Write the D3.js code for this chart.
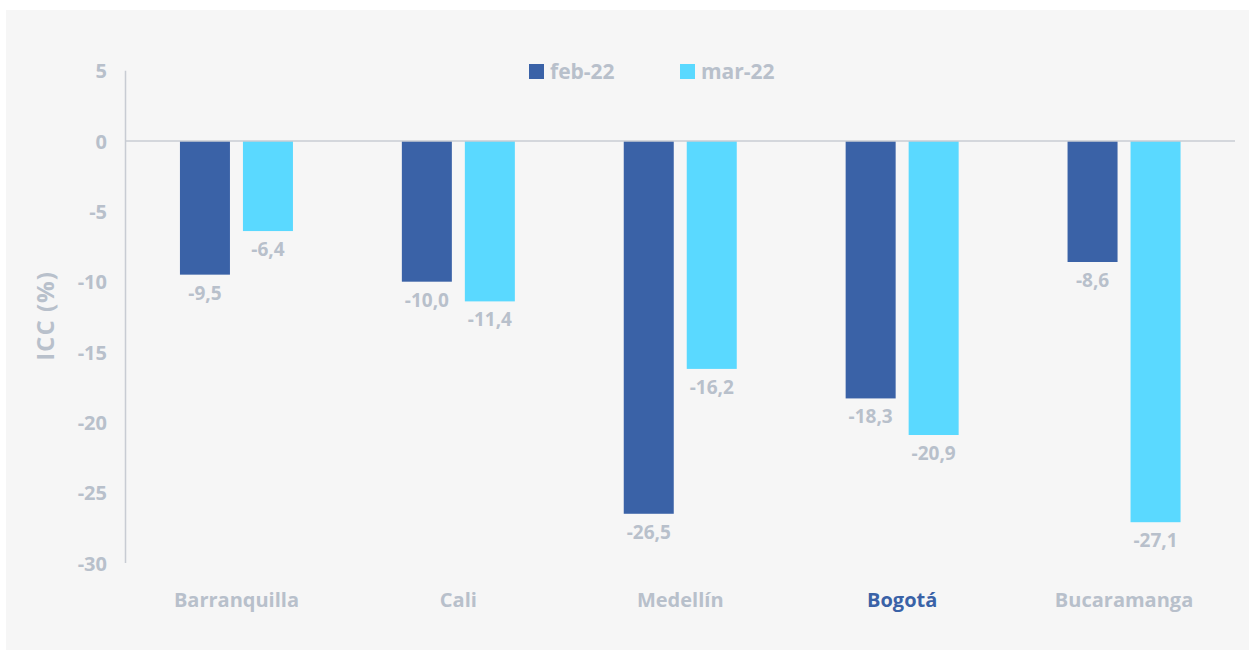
<!DOCTYPE html>
<html><head><meta charset="utf-8">
<script src="https://cdn.jsdelivr.net/npm/d3@7"></script>
<style>
html,body{margin:0;padding:0;background:#fff;}
svg{display:block;}
text{font-family:"Open Sans",Lato,sans-serif;font-weight:700;}
</style></head>
<body>
<script>
const categories = ["Barranquilla","Cali","Medellín","Bogotá","Bucaramanga"];
const seriesNames = ["feb-22","mar-22"];
const feb22 = [-9.5,-10.0,-26.5,-18.3,-8.6];
const mar22 = [-6.4,-11.4,-16.2,-20.9,-27.1];
const yTicks = [5,0,-5,-10,-15,-20,-25,-30];
const highlight = "Bogotá";

const W = 1249, H = 650;
const colors = ["#3a62a7","#5ad9ff"];
const gray = "#b8c0cb";

const svg = d3.select("body").append("svg").attr("width",W).attr("height",H);
svg.append("rect").attr("x",6).attr("y",10).attr("width",W-6).attr("height",H-10).attr("fill","#f6f6f6");

const left = 125.5, right = 1235;
const y = d3.scaleLinear().domain([-30,5]).range([563,70.7]);
const x0 = d3.scaleBand().domain(categories).range([left,right]).paddingInner(0).paddingOuter(0);
const x1 = d3.scaleBand().domain(seriesNames).range([0,113]).paddingInner(13/63);

const data = categories.map((c,i)=>({cat:c, vals:[feb22[i],mar22[i]]}));

// y axis line
svg.append("line").attr("x1",left).attr("x2",left).attr("y1",y(5)).attr("y2",y(-30))
  .attr("stroke","#c8ccd3").attr("stroke-width",1.5);

// tick labels
const yAxis = d3.axisLeft(y).tickValues(yTicks).tickSize(0).tickPadding(0).tickFormat(d=>String(d));
const ga = svg.append("g").attr("transform",`translate(107,0)`).call(yAxis);
ga.select(".domain").remove();
ga.selectAll("text").attr("fill",gray).style("font-size","20px").style("font-family","'Open Sans',sans-serif").style("font-weight","700").attr("dy","0.35em");

// axis title
svg.append("text").attr("transform","translate(54,316) rotate(-90)").attr("text-anchor","middle")
  .attr("fill",gray).style("font-size","24px").style("letter-spacing","1px").text("ICC (%)");

// bars
const groups = svg.selectAll("g.cat").data(data).join("g").attr("class","cat")
  .attr("transform",d=>`translate(${x0(d.cat)+x0.bandwidth()/2-56.5},0)`);
groups.selectAll("rect").data(d=>d.vals.map((v,j)=>({v,s:seriesNames[j],j}))).join("rect")
  .attr("x",d=>x1(d.s)).attr("width",x1.bandwidth())
  .attr("y",y(0)).attr("height",d=>y(d.v)-y(0))
  .attr("fill",d=>colors[d.j]);
groups.selectAll("text.val").data(d=>d.vals.map((v,j)=>({v,s:seriesNames[j],j}))).join("text")
  .attr("class","val").attr("text-anchor","middle")
  .attr("x",d=>x1(d.s)+x1.bandwidth()/2).attr("y",d=>y(d.v)+25)
  .attr("fill",gray).style("font-size","19px")
  .text(d=>d.v.toFixed(1).replace(".",","));

// zero line
svg.append("line").attr("x1",left).attr("x2",right).attr("y1",y(0)).attr("y2",y(0))
  .attr("stroke","#c8ccd3").attr("stroke-width",1.5);

// category labels
svg.selectAll("text.cat").data(categories).join("text").attr("class","cat")
  .attr("x",d=>x0(d)+x0.bandwidth()/2).attr("y",607).attr("text-anchor","middle")
  .attr("fill",d=>d===highlight?"#3a62a7":gray).style("font-size","20px").text(d=>d);

// legend
const legX = [529,680];
const lg = svg.selectAll("g.leg").data(seriesNames).join("g").attr("class","leg")
  .attr("transform",(d,i)=>`translate(${legX[i]},64)`);
lg.append("rect").attr("width",15).attr("height",15).attr("fill",(d,i)=>colors[i]);
lg.append("text").attr("x",21).attr("y",7.5).attr("dy","0.35em").attr("fill",gray).style("font-size","21px").text(d=>d);
</script>
</body></html>
